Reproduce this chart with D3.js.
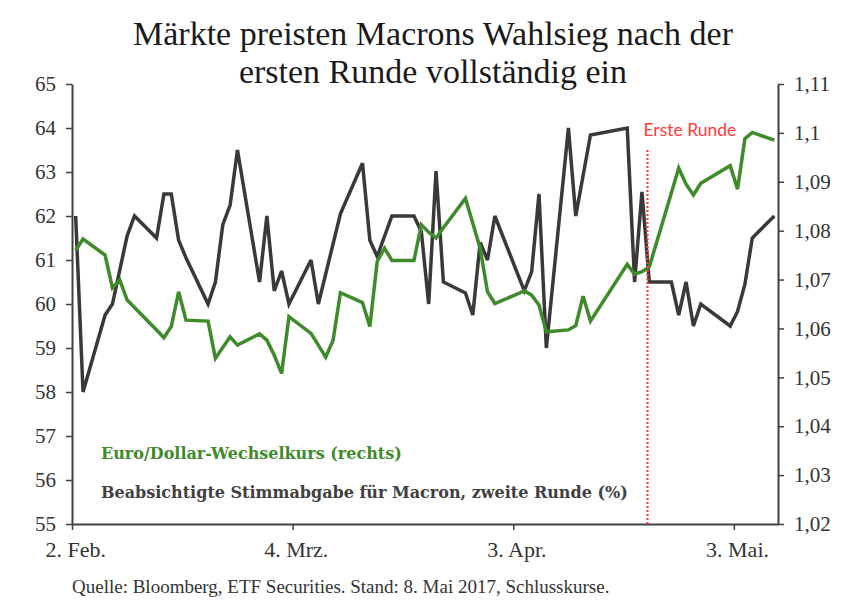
<!DOCTYPE html>
<html><head><meta charset="utf-8">
<script src="https://cdn.jsdelivr.net/npm/d3@7"></script>
<style>
html,body{margin:0;padding:0;background:#fff;}
svg{display:block;}
</style></head>
<body>
<svg id="chart" width="866" height="614"></svg>
<script>
// ---------- data ----------
const titleLines = ["Märkte preisten Macrons Wahlsieg nach der", "ersten Runde vollständig ein"];
const xTickDates = ["2017-02-02", "2017-03-04", "2017-04-03", "2017-05-03"];
const xTickLabels = ["2. Feb.", "4. Mrz.", "3. Apr.", "3. Mai."];
const leftTicks = [55, 56, 57, 58, 59, 60, 61, 62, 63, 64, 65];
const rightTicks = [1.02, 1.03, 1.04, 1.05, 1.06, 1.07, 1.08, 1.09, 1.10, 1.11];

// Beabsichtigte Stimmabgabe für Macron (%, linke Achse)
const pollDates = ["2017-02-02","2017-02-03","2017-02-06","2017-02-07","2017-02-09","2017-02-10","2017-02-13","2017-02-14","2017-02-15","2017-02-16","2017-02-17","2017-02-20","2017-02-21","2017-02-22","2017-02-23","2017-02-24","2017-02-27","2017-02-28","2017-03-01","2017-03-02","2017-03-03","2017-03-06","2017-03-07","2017-03-10","2017-03-13","2017-03-14","2017-03-15","2017-03-17","2017-03-20","2017-03-21","2017-03-22","2017-03-23","2017-03-24","2017-03-27","2017-03-28","2017-03-29","2017-03-30","2017-03-31","2017-04-04","2017-04-05","2017-04-06","2017-04-07","2017-04-10","2017-04-11","2017-04-13","2017-04-18","2017-04-19","2017-04-20","2017-04-21","2017-04-24","2017-04-25","2017-04-26","2017-04-27","2017-04-28","2017-05-02","2017-05-03","2017-05-04","2017-05-05","2017-05-08"];
const pollValues = [62,58,59.75,60,61.55,62,61.5,62.5,62.5,61.45,61.05,60,60.5,61.8,62.25,63.5,60.5,62,60.3,60.75,60,61,60,62.05,63.2,61.45,61.08,62,62,61.65,60,63.02,60.5,60.25,59.75,61.4,61,62,60.3,60.73,62.5,59,64,62,63.84,64,60.5,62.55,60.5,60.5,59.75,60.5,59.5,60,59.5,59.83,60.45,61.5,62];

// Euro/Dollar-Wechselkurs (rechte Achse)
const fxDates = ["2017-02-02","2017-02-03","2017-02-06","2017-02-07","2017-02-08","2017-02-09","2017-02-10","2017-02-13","2017-02-14","2017-02-15","2017-02-16","2017-02-17","2017-02-20","2017-02-21","2017-02-22","2017-02-23","2017-02-24","2017-02-27","2017-02-28","2017-03-01","2017-03-02","2017-03-03","2017-03-06","2017-03-07","2017-03-08","2017-03-09","2017-03-10","2017-03-13","2017-03-14","2017-03-15","2017-03-16","2017-03-17","2017-03-20","2017-03-21","2017-03-22","2017-03-23","2017-03-24","2017-03-27","2017-03-28","2017-03-29","2017-03-30","2017-03-31","2017-04-03","2017-04-04","2017-04-05","2017-04-06","2017-04-07","2017-04-10","2017-04-11","2017-04-12","2017-04-13","2017-04-18","2017-04-19","2017-04-20","2017-04-21","2017-04-24","2017-04-25","2017-04-26","2017-04-27","2017-04-28","2017-05-02","2017-05-03","2017-05-04","2017-05-05","2017-05-08"];
const fxValues = [1.0760,1.0783,1.0750,1.0683,1.0699,1.0658,1.0643,1.0597,1.0581,1.0604,1.0675,1.0617,1.0615,1.0539,1.0561,1.0583,1.0566,1.0589,1.0576,1.0545,1.0508,1.0624,1.0590,1.0566,1.0541,1.0576,1.0673,1.0653,1.0604,1.0737,1.0764,1.0739,1.0739,1.0812,1.0797,1.0785,1.0806,1.0866,1.0815,1.0764,1.0675,1.0651,1.0670,1.0677,1.0668,1.0648,1.0593,1.0597,1.0606,1.0666,1.0615,1.0731,1.0711,1.0716,1.0726,1.0877,1.0928,1.0895,1.0873,1.0897,1.0933,1.0885,1.0988,1.1001,1.0985];

const firstRoundDate = "2017-04-21";
const firstRoundLabel = "Erste Runde";
const legendFx = "Euro/Dollar-Wechselkurs (rechts)";
const legendPoll = "Beabsichtigte Stimmabgabe für Macron, zweite Runde (%)";
const sourceText = "Quelle: Bloomberg, ETF Securities. Stand: 8. Mai 2017, Schlusskurse.";

// ---------- setup ----------
const svg = d3.select("#chart");
const parse = d3.timeParse("%Y-%m-%d");
const noon = s => d3.timeHour.offset(parse(s), 12);
const serif = "'Liberation Serif', 'DejaVu Serif', serif";
const wideSerif = "'DejaVu Serif', 'Liberation Serif', serif";
const axisColor = "#404040";
const greenColor = "#3f8a2b";
const darkColor = "#3b3838";

const x = d3.scaleTime().domain([parse("2017-02-02"), parse("2017-05-09")]).range([72, 778]);
const yL = d3.scaleLinear().domain([55, 65]).range([524, 84]);
const yR = d3.scaleLinear().domain([1.02, 1.11]).range([524, 84]);

// title
svg.append("g").selectAll("text").data(titleLines).join("text")
  .attr("x", 433).attr("y", (d, i) => 45 + i * 38)
  .attr("text-anchor", "middle")
  .attr("font-family", serif).attr("font-size", 34).attr("fill", "#1a1a1a")
  .text(d => d);

// axes
const gL = svg.append("g").attr("transform", "translate(72,0)")
  .call(d3.axisLeft(yL).tickValues(leftTicks).tickSize(6).tickSizeOuter(0).tickPadding(10).tickFormat(d3.format("d")));
const fmtR = d => String(+d.toFixed(2)).replace(".", ",");
const gR = svg.append("g").attr("transform", "translate(778,0)")
  .call(d3.axisRight(yR).tickValues(rightTicks).tickSize(6).tickSizeOuter(0).tickPadding(10).tickFormat(fmtR));
const gB = svg.append("g").attr("transform", "translate(0,524)")
  .call(d3.axisBottom(x).tickValues(xTickDates.map(parse)).tickSize(6).tickSizeOuter(0).tickFormat(""));

[gL, gR, gB].forEach(g => {
  g.select(".domain").attr("stroke", axisColor).attr("stroke-width", 2);
  g.selectAll(".tick line").attr("stroke", axisColor).attr("stroke-width", 1.5);
  g.selectAll(".tick text").attr("font-family", serif).attr("font-size", 21).attr("fill", "#333");
});

// x labels (centred on the day)
svg.append("g").selectAll("text").data(xTickDates).join("text")
  .attr("x", d => x(noon(d))).attr("y", 557)
  .attr("text-anchor", "middle")
  .attr("font-family", serif).attr("font-size", 22).attr("fill", "#333")
  .text((d, i) => xTickLabels[i]);

// lines
const pollData = pollDates.map((d, i) => ({ date: noon(d), v: pollValues[i] }));
const fxData = fxDates.map((d, i) => ({ date: noon(d), v: fxValues[i] }));

svg.append("path").datum(pollData)
  .attr("fill", "none").attr("stroke", darkColor).attr("stroke-width", 3.5)
  .attr("stroke-linejoin", "miter").attr("stroke-miterlimit", 3)
  .attr("d", d3.line().x(d => x(d.date)).y(d => yL(d.v)));

svg.append("path").datum(fxData)
  .attr("fill", "none").attr("stroke", greenColor).attr("stroke-width", 3.5)
  .attr("stroke-linejoin", "miter").attr("stroke-miterlimit", 3)
  .attr("d", d3.line().x(d => x(d.date)).y(d => yR(d.v)));

// first round marker
const xr = x(d3.timeHour.offset(parse(firstRoundDate), 6));
svg.append("line")
  .attr("x1", xr).attr("x2", xr).attr("y1", 150).attr("y2", 524)
  .attr("stroke", "#ff3b3b").attr("stroke-width", 2.2).attr("stroke-dasharray", "2,2");
svg.append("text").attr("x", xr - 4).attr("y", 136)
  .attr("font-family", "Lato, 'Open Sans', sans-serif").attr("font-size", 17.5).attr("fill", "#ff3b3b")
  .text(firstRoundLabel);

// legend
svg.append("text").attr("x", 101).attr("y", 459)
  .attr("font-family", wideSerif).attr("font-weight", "bold").attr("font-size", 16).attr("fill", greenColor)
  .text(legendFx);
svg.append("text").attr("x", 101).attr("y", 498)
  .attr("font-family", wideSerif).attr("font-weight", "bold").attr("font-size", 16).attr("fill", "#404040")
  .text(legendPoll);

// source
svg.append("text").attr("x", 72).attr("y", 593)
  .attr("font-family", serif).attr("font-size", 19).attr("fill", "#333")
  .text(sourceText);
</script>
</body></html>
